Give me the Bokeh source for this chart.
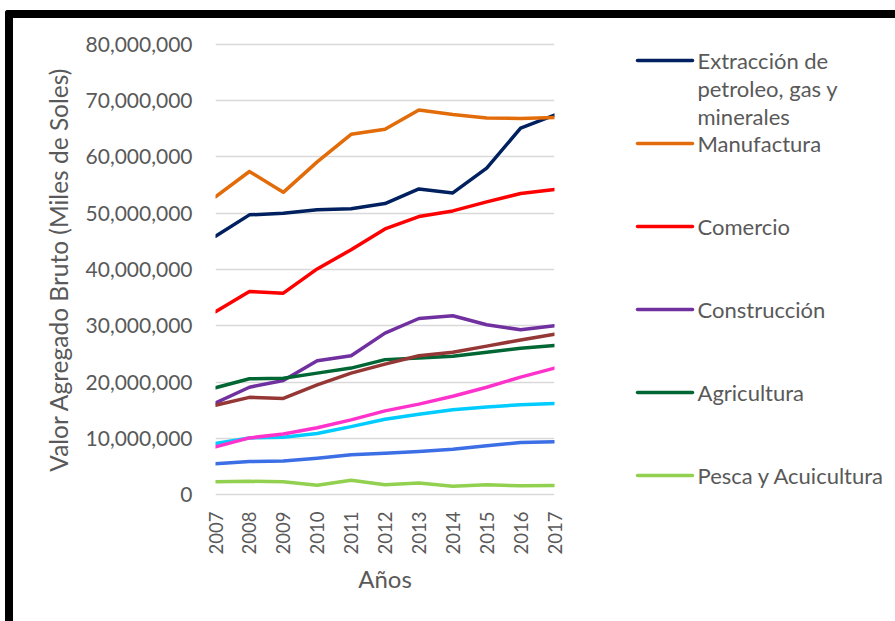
import math
from bokeh.plotting import figure
from bokeh.layouts import row
from bokeh.models import NumeralTickFormatter, FixedTicker, Range1d
from bokeh.core.properties import value
from bokeh.embed import file_html
from bokeh.resources import INLINE

years = [2007, 2008, 2009, 2010, 2011, 2012, 2013, 2014, 2015, 2016, 2017]

# Valor Agregado Bruto, millones de (miles de soles)
extraccion = [45.9, 49.7, 50.0, 50.6, 50.8, 51.7, 54.3, 53.6, 58.0, 65.1, 67.4]
manufactura = [52.9, 57.4, 53.7, 59.1, 64.0, 64.9, 68.3, 67.5, 66.9, 66.8, 67.0]
comercio = [32.5, 36.1, 35.8, 40.1, 43.5, 47.2, 49.4, 50.4, 52.0, 53.5, 54.2]
construccion = [16.3, 19.1, 20.3, 23.8, 24.7, 28.7, 31.3, 31.8, 30.2, 29.3, 30.0]
agricultura = [19.0, 20.6, 20.7, 21.6, 22.5, 24.0, 24.3, 24.6, 25.3, 26.0, 26.5]
pesca = [2.3, 2.4, 2.3, 1.7, 2.6, 1.8, 2.1, 1.5, 1.8, 1.6, 1.65]
serie_marron = [15.9, 17.3, 17.1, 19.5, 21.6, 23.2, 24.7, 25.3, 26.4, 27.5, 28.5]
serie_rosa = [8.5, 10.1, 10.8, 11.9, 13.3, 14.9, 16.1, 17.5, 19.1, 20.9, 22.5]
serie_celeste = [9.1, 10.1, 10.2, 10.9, 12.1, 13.4, 14.3, 15.1, 15.6, 16.0, 16.2]
serie_azul = [5.5, 5.9, 6.0, 6.5, 7.1, 7.4, 7.7, 8.1, 8.7, 9.3, 9.4]

y_ticks = [0, 10_000_000, 20_000_000, 30_000_000, 40_000_000, 50_000_000,
           60_000_000, 70_000_000, 80_000_000]

legend_labels = ["Extracción de\npetroleo, gas y\nminerales", "Manufactura",
                 "Comercio", "Construcción", "Agricultura", "Pesca y Acuicultura"]

series = [
    (extraccion, "#002060"),
    (manufactura, "#E36C0A"),
    (comercio, "#FF0000"),
    (construccion, "#7030A0"),
    (agricultura, "#006633"),
    (pesca, "#92D050"),
    (serie_marron, "#953735"),
    (serie_celeste, "#00CCFF"),
    (serie_rosa, "#FF33CC"),
    (serie_azul, "#3C6EE6"),
]

label_color = "#595959"
font = "Lato"

# ---------------- main chart ----------------
W1, H = 587, 603
FL, FR, FT, FB = 202, 541, 24, 478  # frame edges in canvas px

p = figure(width=W1, height=H, output_backend="svg", toolbar_location=None,
           x_range=Range1d(2007, 2017), y_range=Range1d(-300_000, 80_300_000),
           min_border_left=FL, min_border_right=W1 - FR,
           min_border_top=FT, min_border_bottom=H - FB)
p.background_fill_color = "white"
p.border_fill_color = "white"
p.outline_line_color = None

p.yaxis.ticker = FixedTicker(ticks=y_ticks)
p.yaxis.formatter = NumeralTickFormatter(format="0,0")
p.yaxis.axis_line_color = None
p.yaxis.major_tick_line_color = None
p.yaxis.minor_tick_line_color = None
p.yaxis.major_label_text_font = font
p.yaxis.major_label_text_font_size = "21px"
p.yaxis.major_label_text_color = label_color
p.yaxis.major_label_standoff = 17
p.yaxis.axis_label = "Valor Agregado Bruto (Miles de Soles)"
p.yaxis.axis_label_text_font = font
p.yaxis.axis_label_text_font_size = "24.5px"
p.yaxis.axis_label_text_font_style = "normal"
p.yaxis.axis_label_text_color = label_color
p.yaxis.axis_label_standoff = 10

p.xaxis.ticker = FixedTicker(ticks=years)
p.xaxis.major_label_overrides = {y: str(y) for y in years}
p.xaxis.major_label_orientation = math.pi / 2
p.xaxis.axis_line_color = None
p.xaxis.major_tick_line_color = None
p.xaxis.minor_tick_line_color = None
p.xaxis.major_label_text_font = font
p.xaxis.major_label_text_font_size = "18.5px"
p.xaxis.major_label_text_color = label_color
p.xaxis.major_label_standoff = 9
p.xaxis.axis_label = "Años"
p.xaxis.axis_label_text_font = font
p.xaxis.axis_label_text_font_size = "24px"
p.xaxis.axis_label_text_font_style = "normal"
p.xaxis.axis_label_text_color = label_color
p.xaxis.axis_label_standoff = 7

p.xgrid.grid_line_color = None
p.ygrid.ticker = FixedTicker(ticks=y_ticks)
p.ygrid.grid_line_color = "#D9D9D9"
p.ygrid.grid_line_width = 1.5

for vals, color in series:
    p.line(years, [v * 1_000_000 for v in vals], line_color=color,
           line_width=3.5, line_join="round", line_cap="round")

# ---------------- legend panel ----------------
W2 = 295
lg = figure(width=W2, height=H, output_backend="svg", toolbar_location=None,
            x_range=Range1d(0, W2), y_range=Range1d(FB, FT),
            min_border_left=0, min_border_right=0,
            min_border_top=FT, min_border_bottom=H - FB)
lg.axis.visible = False
lg.grid.visible = False
lg.outline_line_color = None
lg.background_fill_color = "white"
lg.border_fill_color = "white"

y0, pitch, line_gap = 42, 83, 28
gx0, gx1, tx = 37, 92, 97
seg_y, seg_c, txt_x, txt_y, txt = [], [], [], [], []
for i, lab in enumerate(legend_labels):
    yy = y0 + i * pitch
    seg_y.append(yy)
    seg_c.append(series[i][1])
    for j, part in enumerate(lab.split("\n")):
        txt_x.append(tx)
        txt_y.append(yy + j * line_gap)
        txt.append(part)

lg.segment(x0=[gx0] * len(seg_y), y0=seg_y, x1=[gx1] * len(seg_y), y1=seg_y,
           line_color=seg_c, line_width=3.5, line_cap="round")
lg.text(x=txt_x, y=txt_y, text=txt, text_font=value(font),
        text_font_size="22px", text_color=label_color,
        text_baseline="middle", text_align="left")

layout = row(p, lg, spacing=0,
             styles={"margin-left": "5px", "margin-top": "10px",
                     "border-left": "8px solid black",
                     "border-top": "8px solid black",
                     "border-top-left-radius": "3px"})

open("out.html", "w").write(file_html(layout, INLINE))
